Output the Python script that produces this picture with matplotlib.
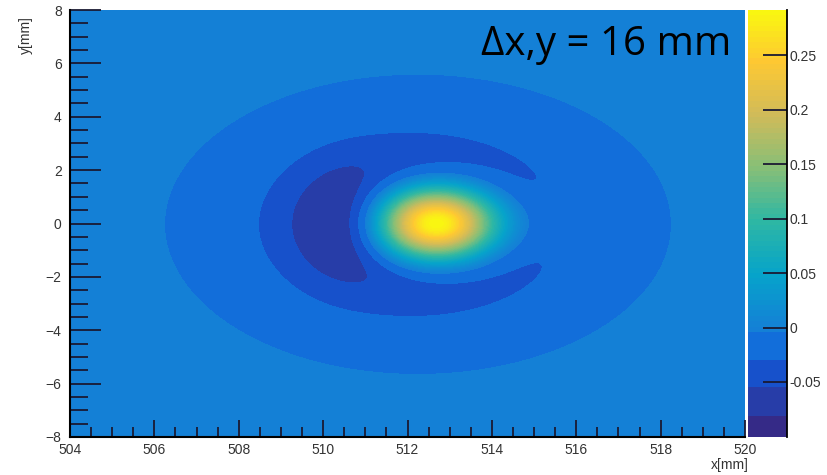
import numpy as np
import matplotlib
matplotlib.use("Agg")
import matplotlib.pyplot as plt
from matplotlib.colors import LinearSegmentedColormap, BoundaryNorm, ListedColormap
from matplotlib.ticker import MultipleLocator

# ROOT kBird palette stops
bird_stops = [0.0, 0.125, 0.25, 0.375, 0.5, 0.625, 0.75, 0.875, 1.0]
bird_r = [0.2082, 0.0592, 0.0780, 0.0232, 0.1802, 0.5301, 0.8186, 0.9956, 0.9764]
bird_g = [0.1664, 0.3599, 0.5041, 0.6419, 0.7178, 0.7492, 0.7328, 0.7862, 0.9832]
bird_b = [0.5293, 0.8684, 0.8385, 0.7914, 0.6425, 0.4662, 0.3499, 0.1968, 0.0539]

# blob components: centre x, centre y, sigma x, sigma y, amplitude
comp_x0 = [512.65, 512.25, 510.5, 515.0]
comp_y0 = [0.0, -0.03, 0.0, 0.0]
comp_sx = [1.05, 2.35, 0.8, 0.9]
comp_sy = [1.0, 2.2, 1.4, 0.8]
comp_amp = [0.395, -0.105, -0.035, 0.010]

z_min, z_max = -0.1005, 0.2915
# coarse steps below zero, fine steps above
neg_edges = [-0.1005, -0.081, -0.055, -0.030, -0.004]
n_fine = 60
cbar_ticks = [-0.05, 0, 0.05, 0.1, 0.15, 0.2, 0.25]
cbar_labels = ["-0.05", "0", "0.05", "0.1", "0.15", "0.2", "0.25"]

xs = np.linspace(504, 520, 600)
ys = np.linspace(-8, 8, 600)
X, Y = np.meshgrid(xs, ys)
Z = np.zeros_like(X)
for x0, y0, sx, sy, a in zip(comp_x0, comp_y0, comp_sx, comp_sy, comp_amp):
    Z += a * np.exp(-((X - x0) ** 2 / (2 * sx ** 2) + (Y - y0) ** 2 / (2 * sy ** 2)))

bird = LinearSegmentedColormap.from_list(
    "bird", list(zip(bird_stops, zip(bird_r, bird_g, bird_b))))
levels = np.concatenate([neg_edges[:-1], np.linspace(neg_edges[-1], z_max, n_fine + 1)])
band_cols = [bird((lo - z_min) / (z_max - z_min)) for lo in levels[:-1]]
band_cols[0] = bird(0.0)
band_cols[1] = bird(0.05)
band_cols[2] = bird(0.1)
band_cols[3] = bird(0.19)
# anything above the top of the scale stays yellow
plot_levels = np.append(levels, 10.0)
plot_cols = band_cols + [bird(1.0)]
cmap = ListedColormap(plot_cols)
norm = BoundaryNorm(plot_levels, cmap.N)

fig = plt.figure(figsize=(8.27, 4.75), dpi=100)
ax = fig.add_axes([70 / 827, 38 / 475, 675 / 827, 427 / 475])
cax = fig.add_axes([748 / 827, 38 / 475, 39 / 827, 427 / 475])

ax.contourf(X, Y, Z, levels=plot_levels, cmap=cmap, norm=norm)
ax.set_xlim(504, 520)
ax.set_ylim(-8, 8)

tick_col = "#333333"
lab_font = "Liberation Sans"
for s in ["top", "right"]:
    ax.spines[s].set_visible(False)
ax.spines["left"].set_linewidth(1.5)
ax.spines["bottom"].set_linewidth(1.5)
ax.xaxis.set_major_locator(MultipleLocator(2))
ax.xaxis.set_minor_locator(MultipleLocator(0.5))
ax.yaxis.set_major_locator(MultipleLocator(2))
ax.yaxis.set_minor_locator(MultipleLocator(0.5))
ax.tick_params(axis="y", which="major", direction="in", length=22, width=1.3, color="#1a1a33",
               labelsize=10, labelcolor=tick_col, pad=6)
ax.tick_params(axis="y", which="minor", direction="in", length=13, width=1.3, color="#1a1a33")
ax.tick_params(axis="x", which="major", direction="in", length=12, width=1.3, color="#1a1a33",
               labelsize=10, labelcolor=tick_col, pad=4)
ax.tick_params(axis="x", which="minor", direction="in", length=7, width=1.3, color="#1a1a33")
for lab in ax.get_xticklabels() + ax.get_yticklabels():
    lab.set_family(lab_font)

fig.text(26 / 827, 1 - 35 / 475, "y[mm]", rotation=90, ha="center", va="center",
         fontsize=10, color=tick_col, family=lab_font)
fig.text(730 / 827, 1 - 465 / 475, "x[mm]", ha="center", va="center",
         fontsize=10, color=tick_col, family=lab_font)

ax.text((731 - 70) / 675, (437 - 55) / 427, "\u0394x,y = 16 mm", transform=ax.transAxes,
        ha="right", va="baseline", fontsize=29, family="Open Sans", color="black")

# colour scale drawn as stacked bands
for i in range(len(levels) - 1):
    cax.axhspan(levels[i], levels[i + 1], color=band_cols[i], lw=0)
cax.set_ylim(z_min, z_max)
cax.set_xlim(0, 1)
cax.set_xticks([])
for s in ["top", "left", "bottom"]:
    cax.spines[s].set_visible(False)
cax.spines["right"].set_linewidth(1.3)
cax.yaxis.tick_right()
cax.set_yticks(cbar_ticks)
cax.set_yticklabels(cbar_labels, family=lab_font)
cax.tick_params(axis="y", direction="in", length=17, width=1.3, color="#1a1a33",
                labelsize=10, labelcolor=tick_col, pad=2)

fig.savefig("out.png", dpi=100)
